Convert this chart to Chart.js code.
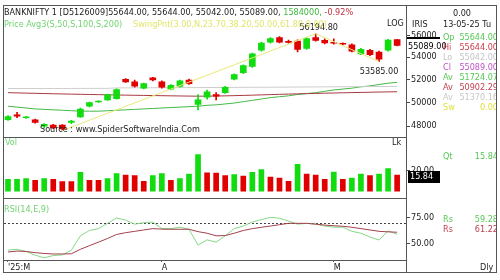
<!DOCTYPE html>
<html>
<head>
<meta charset="utf-8">
<title>BANKNIFTY daily</title>
<script src="https://cdn.jsdelivr.net/npm/chart.js@4.4.1/dist/chart.umd.min.js"></script>
<style>
  body { margin: 0; background: #fff; }
  #wrap { position: relative; width: 500px; height: 280px; overflow: hidden; background: #fff;
          font-family: 'DejaVu Sans Condensed', 'DejaVu Sans', sans-serif; font-size: 9px; color: #222; }
  #wrap canvas { position: absolute; }
  .t { position: absolute; white-space: nowrap; line-height: 10px; }
  .ln { position: absolute; background: #555; }
  #side { position: absolute; left: 407px; top: 5px; width: 89px; height: 267px; overflow: hidden; }
  #side .l { left: 36px; }
  #side .v { right: -2px; text-align: right; }
</style>
</head>
<body>
<div id="wrap">
  <canvas id="price" width="492" height="132" style="left:4px;top:5px"></canvas>
  <canvas id="vol" width="492" height="60" style="left:4px;top:138px"></canvas>
  <canvas id="rsi" width="492" height="73" style="left:4px;top:199px"></canvas>

  <div class="t" style="left:4px;top:7px"><span id="head"></span> <span id="headVol" style="color:#3cb83c"></span> <span id="headChg" style="color:#c0303c"></span></div>
  <div class="t" style="left:133px;top:18.5px;color:#e4e46a">SwingPnt(3.00,N,23.70,38.20,50.00,61.80,0.00)</div>
  <div class="t" style="left:4px;top:18.5px;color:#6fd46f">Price Avg3(S,50,S,100,S,200)</div>
  <div class="t" style="left:387px;top:18px">LOG</div>
  <div class="t" style="left:40px;top:124px;color:#222">Source : www.SpiderSoftwareIndia.Com</div>
  <div class="t" style="left:5px;top:137px;color:#6fd46f">Vol</div>
  <div class="t" style="left:392px;top:137px">Lk</div>
  <div class="t" style="left:4px;top:203.5px;color:#6fd46f">RSI(14,E,9)</div>

  <div id="side">
    <div class="t" style="left:46px;top:3px">0.00</div>
    <div class="t" style="left:5px;top:14px">IRIS</div>
    <div class="t" style="left:36px;top:14px">13-05-25 Tu</div>
    <div class="t l" style="top:26.5px;color:#55c855">Op</div><div class="t v" id="vOp" style="top:26.5px;color:#55c855"></div>
    <div class="t l" style="top:36.6px;color:#cc3b4b">Hi</div><div class="t v" id="vHi" style="top:36.6px;color:#cc3b4b"></div>
    <div class="t l" style="top:46.7px;color:#c4c4c4">Lo</div><div class="t v" id="vLo" style="top:46.7px;color:#c4c4c4"></div>
    <div class="t l" style="top:56.8px;color:#c050c8">Cl</div><div class="t v" id="vCl" style="top:56.8px;color:#c050c8"></div>
    <div class="t l" style="top:66.9px;color:#55c855">Av</div><div class="t v" id="vA1" style="top:66.9px;color:#55c855"></div>
    <div class="t l" style="top:77px;color:#c04050">Av</div><div class="t v" id="vA2" style="top:77px;color:#c04050"></div>
    <div class="t l" style="top:87.1px;color:#c8c8c8">Av</div><div class="t v" id="vA3" style="top:87.1px;color:#c8c8c8"></div>
    <div class="t l" style="top:97.2px;color:#e0e040">Sw</div><div class="t v" style="top:97.2px;color:#e0e040">0.00</div>
    <div class="t l" style="top:145.5px;color:#55c855">Qt</div><div class="t v" id="vQt" style="top:145.5px;color:#55c855"></div>
    <div class="t l" style="top:209px;color:#55c855">Rs</div><div class="t v" id="vRs1" style="top:209px;color:#55c855"></div>
    <div class="t l" style="top:218.5px;color:#c04050">Rs</div><div class="t v" id="vRs2" style="top:218.5px;color:#c04050"></div>
    <div class="t" style="left:73px;top:256.5px">Dly</div>
  </div>

  <div style="position:absolute;left:3px;top:5px;width:492px;height:266px;border:1px solid #555"></div>
  <div class="ln" style="left:406px;top:5px;width:1px;height:268px"></div>
  <div class="ln" style="left:3px;top:137px;width:404px;height:1px"></div>
  <div class="ln" style="left:3px;top:198px;width:404px;height:1px"></div>
  <div class="ln" style="left:3px;top:260px;width:404px;height:1px"></div>
</div>

<script>
// daily candles, BANKNIFTY, Mar - 13 May 2025
const opens  = [48525, 48940, 48690, 48525, 48000, 48080, 48080, 48300, 48770, 49660, 50020, 50200, 50300, 52000, 51770, 51213, 52130, 51770, 51130, 51370, 51930, 49810,
                50430, 50660, 50820, 52010, 52575, 53144, 54637, 55400, 55828, 55420, 55485, 54805, 55828, 55570, 55330, 55250, 55144, 54302, 54637, 54469, 54637, 55644];
const highs  = [48880, 49150, 48780, 48580, 48200, 48150, 48120, 48480, 49500, 50020, 50120, 50700, 51150, 52050, 51930, 51650, 52170, 51850, 51530, 51930, 52010, 50660,
                51050, 50820, 51370, 52490, 53300, 54380, 55400, 55830, 55914, 55600, 55610, 55828, 56194.8, 55700, 55700, 55320, 55229, 54805, 54721, 54553, 55656, 55644];
const lows   = [48460, 48700, 48640, 48250, 47850, 47800, 47640, 48200, 48710, 49600, 49980, 50150, 50250, 51720, 51300, 51150, 51850, 51210, 51060, 51290, 51530, 49350,
                50270, 50200, 50750, 51930, 52500, 53060, 54550, 55310, 55314, 55300, 54470, 54721, 55485, 55229, 55200, 55140, 54469, 54218, 54135, 53585, 54553, 55042];
const closes = [48790, 48825, 48720, 48300, 48150, 47860, 47780, 48420, 49420, 49970, 50060, 50660, 51080, 51770, 51380, 51609, 51930, 51290, 51450, 51850, 51610, 50200,
                50900, 50510, 51290, 52410, 53225, 54302, 55314, 55742, 55400, 55380, 54721, 55742, 55570, 55314, 55290, 55200, 54553, 54721, 54218, 53802, 55600, 55089];
// volume in lakh
const volumes = [11.6, 11.7, 12.3, 10.8, 12.3, 11.6, 9.6, 9.5, 18.3, 10.8, 10.7, 12.3, 17.1, 15.8, 15.3, 9.8, 15.3, 17.1, 10.8, 12.3, 16.6, 35.4,
                 17.8, 17.6, 15.3, 16.3, 14.8, 18.3, 20.9, 13.8, 12.8, 9.8, 25.9, 16.6, 15.8, 11.6, 18.6, 11.6, 12.8, 16.6, 15.3, 16.6, 21.9, 15.84];
const ma50  = [49659, 49583, 49506, 49430, 49392, 49354, 49316, 49278, 49240, 49240, 49240, 49278, 49316, 49354, 49392, 49430, 49468, 49506, 49545, 49583, 49621, 49659,
               49736, 49774, 49851, 49928, 50043, 50159, 50275, 50391, 50469, 50547, 50664, 50742, 50820, 50938, 51056, 51134, 51213, 51331, 51410, 51530, 51649, 51724.07];
const ma100 = [50820, 50800, 50780, 50762, 50744, 50726, 50710, 50694, 50678, 50662, 50648, 50634, 50620, 50606, 50594, 50582, 50570, 50558, 50546, 50534, 50524, 50516,
               50520, 50530, 50545, 50562, 50582, 50604, 50628, 50652, 50676, 50698, 50718, 50738, 50756, 50774, 50792, 50810, 50826, 50842, 50858, 50874, 50888, 50902.29];
const ma200 = [51180, 51181, 51182, 51183, 51184, 51185, 51186, 51188, 51190, 51192, 51194, 51196, 51236, 51240, 51243, 51246, 51249, 51252, 51255, 51258, 51261, 51264,
               51268, 51272, 51276, 51280, 51284, 51288, 51292, 51296, 51300, 51305, 51310, 51315, 51320, 51325, 51330, 51335, 51340, 51345, 51350, 51356, 51362, 51370.16];
const rsi    = [44, 44.8, 42.7, 39.2, 36.6, 38.8, 39.4, 44, 57.8, 62.9, 64.7, 69.8, 75, 72.8, 69, 70.4, 71, 64.7, 64.7, 66.1, 64.1, 48.9,
                53.9, 51.7, 57.8, 64.7, 67.2, 71.1, 73.3, 75.6, 74.7, 72, 69, 69.8, 69, 67.2, 66.1, 66.1, 62.1, 60.3, 56.6, 53.7, 62.5, 59.28];
const rsiSig = [42.2, 43.1, 42.7, 41.6, 40.8, 40.3, 40.3, 40.5, 44.8, 48.3, 51.7, 55.2, 59.1, 60.8, 62.1, 63.4, 64.7, 64.2, 64.1, 64.1, 64.1, 61.8,
                60.3, 57.8, 58.0, 60.3, 62.9, 64.7, 66.0, 67.2, 68.5, 69.8, 69.8, 69.8, 69.0, 68.1, 67.5, 67.0, 66.0, 64.7, 63.4, 62.1, 61.6, 61.22];
const swingIdx = [6, 34, 41];
const swingVal = [47640, 56194.8, 53585];
const priceTicks = [48000, 50000, 52000, 54000, 56000];
const volTicks = [20];
const rsiTicks = [50, 75];
const rsiLevel = 70;
const monthIdx = [0, 17, 36];
const monthText = ["'25:M", 'A', 'M'];

const FONT = "'DejaVu Sans Condensed', 'DejaVu Sans', sans-serif";
Chart.defaults.font.family = FONT;
Chart.defaults.font.size = 9;
Chart.defaults.color = '#222';

const UP = '#10dc10', DOWN = '#e00000';
const last = closes.length - 1;
const candleColors = closes.map((c, i) => c >= opens[i] ? UP : DOWN);
const volColors = volumes.map((v, i) => i === 0 || v >= volumes[i - 1] ? UP : DOWN);
const pts = arr => arr.map((v, i) => ({ x: i, y: v }));

// text panels
const f2 = v => v.toFixed(2);
document.getElementById('head').textContent =
  `BANKNIFTY 1 [D5126009]${f2(opens[last])}, ${f2(highs[last])}, ${f2(lows[last])}, ${f2(closes[last])},`;
document.getElementById('headVol').textContent = Math.round(volumes[last] * 100000) + ',';
document.getElementById('headChg').textContent = f2((closes[last] / closes[last - 1] - 1) * 100) + '%';
document.getElementById('vOp').textContent = f2(opens[last]);
document.getElementById('vHi').textContent = f2(highs[last]);
document.getElementById('vLo').textContent = f2(lows[last]);
document.getElementById('vCl').textContent = f2(closes[last]);
document.getElementById('vA1').textContent = f2(ma50[last]);
document.getElementById('vA2').textContent = f2(ma100[last]);
document.getElementById('vA3').textContent = f2(ma200[last]);
document.getElementById('vQt').textContent = f2(volumes[last]);
document.getElementById('vRs1').textContent = f2(rsi[last]);
document.getElementById('vRs2').textContent = f2(rsiSig[last]);

// shared axes
const priceMin = 47635, priceMax = 58379;
const xAxis = show => ({
  type: 'linear', min: -0.442, max: 44.09, offset: false, display: show
});
const yAxis = extra => Object.assign({
  position: 'right',
  border: { display: false },
  grid: { drawOnChartArea: false, drawTicks: true, tickLength: 3, color: '#444' },
  ticks: { padding: 1, autoSkip: false },
  afterFit: s => { s.width = 89; }
}, extra);

// swing line is straight in price, drawn over a log price axis -> one linear axis per leg
const logFrac = p => Math.log(priceMax / p) / Math.log(priceMax / priceMin);
function swingAxis(a, b) {
  const p1 = swingVal[a], p2 = swingVal[b];
  const range = (p2 - p1) / (logFrac(p1) - logFrac(p2));
  const max = p1 + logFrac(p1) * range;
  return { type: 'linear', display: false, min: max - range, max: max };
}
const swingLeg = (a, b, axis) => ({
  type: 'line', yAxisID: axis, order: 0,
  data: [{ x: swingIdx[a], y: swingVal[a] }, { x: swingIdx[b], y: swingVal[b] }],
  borderColor: '#e8e87a', borderWidth: 1, pointRadius: 0
});
const maLine = (arr, color) => ({
  type: 'line', data: pts(arr), borderColor: color, borderWidth: 1, pointRadius: 0, order: 5
});

const priceMarks = {
  id: 'priceMarks',
  afterDraw(chart) {
    const { ctx, chartArea, scales: { x, y } } = chart;
    ctx.save();
    ctx.font = '9px ' + FONT;
    ctx.textBaseline = 'middle';
    ctx.fillStyle = '#222';
    ctx.textAlign = 'center';
    ctx.fillText(f2(swingVal[1]), x.getPixelForValue(swingIdx[1]) + 3, y.getPixelForValue(swingVal[1]) - 6);
    ctx.fillText(f2(swingVal[2]), x.getPixelForValue(swingIdx[2]), y.getPixelForValue(swingVal[2]) + 10);
    const py = y.getPixelForValue(closes[last]);
    ctx.fillStyle = '#000';
    ctx.fillRect(chartArea.right, Math.round(py) - 8, 33, 2);
    ctx.textAlign = 'left';
    ctx.fillText(f2(closes[last]), chartArea.right + 1, py + 1.5);
    ctx.restore();
  }
};

const volMark = {
  id: 'volMark',
  afterDraw(chart) {
    const { ctx, chartArea, scales: { y } } = chart;
    const vy = Math.round(y.getPixelForValue(volumes[last]));
    ctx.save();
    ctx.fillStyle = '#000';
    ctx.fillRect(chartArea.right + 1, vy - 4, 32, 12);
    ctx.fillStyle = '#fff';
    ctx.font = '9px ' + FONT;
    ctx.textBaseline = 'middle';
    ctx.fillText(f2(volumes[last]), chartArea.right + 3, vy + 2);
    ctx.restore();
  }
};

const rsiLine = {
  id: 'rsiLine',
  beforeDatasetsDraw(chart) {
    const { ctx, chartArea, scales: { y } } = chart;
    const ly = Math.round(y.getPixelForValue(rsiLevel)) + 0.5;
    ctx.save();
    ctx.strokeStyle = '#444';
    ctx.lineWidth = 1;
    ctx.setLineDash([2, 2]);
    ctx.beginPath();
    ctx.moveTo(chartArea.left, ly);
    ctx.lineTo(chartArea.right, ly);
    ctx.stroke();
    ctx.restore();
  }
};

const base = {
  responsive: false,
  animation: false,
  devicePixelRatio: 1,
  events: [],
  layout: { padding: 0 },
  plugins: { legend: { display: false }, tooltip: { enabled: false } }
};

new Chart(document.getElementById('price'), {
  type: 'bar',
  data: {
    datasets: [
      swingLeg(0, 1, 's1'),
      swingLeg(1, 2, 's2'),
      { data: closes.map((c, i) => ({ x: i, y: [opens[i], c] })), backgroundColor: candleColors,
        barThickness: 6, minBarLength: 1, grouped: false, order: 1 },
      { data: closes.map((c, i) => ({ x: i, y: [lows[i], highs[i]] })), backgroundColor: candleColors,
        barThickness: 1, grouped: false, order: 2 },
      maLine(ma200, '#cdcdcd'),
      maLine(ma100, '#a83a40'),
      maLine(ma50, '#45b845')
    ]
  },
  options: Object.assign({}, base, {
    scales: {
      x: xAxis(false),
      y: yAxis({
        type: 'logarithmic', min: priceMin, max: priceMax,
        afterBuildTicks: s => { s.ticks = priceTicks.map(v => ({ value: v })); },
        ticks: { padding: 1, autoSkip: false, callback: v => String(v) }
      }),
      s1: swingAxis(0, 1),
      s2: swingAxis(1, 2)
    }
  }),
  plugins: [priceMarks]
});

new Chart(document.getElementById('vol'), {
  type: 'bar',
  data: {
    datasets: [{ data: pts(volumes), backgroundColor: volColors, barThickness: 5, grouped: false }]
  },
  options: Object.assign({}, base, {
    scales: {
      x: xAxis(false),
      y: yAxis({
        type: 'linear', min: 0, max: 45,
        afterBuildTicks: s => { s.ticks = volTicks.map(v => ({ value: v })); },
        ticks: { padding: 1, autoSkip: false, callback: v => v.toFixed(2) }
      })
    }
  }),
  plugins: [volMark]
});

new Chart(document.getElementById('rsi'), {
  type: 'line',
  data: {
    datasets: [
      { data: pts(rsiSig), borderColor: '#a3404c', borderWidth: 1, pointRadius: 0 },
      { data: pts(rsi), borderColor: '#86d886', borderWidth: 1, pointRadius: 0 }
    ]
  },
  options: Object.assign({}, base, {
    scales: {
      x: Object.assign(xAxis(true), {
        position: 'bottom',
        border: { display: false },
        grid: { drawOnChartArea: false, drawTicks: true, tickLength: 2, color: '#666' },
        afterBuildTicks: s => { s.ticks = monthIdx.map(v => ({ value: v })); },
        ticks: { align: 'start', maxRotation: 0, autoSkip: false, padding: 0,
                 callback: (v, i) => monthText[i] },
        afterFit: s => { s.height = 12; }
      }),
      y: yAxis({
        type: 'linear', min: 34.5, max: 87.07,
        afterBuildTicks: s => { s.ticks = rsiTicks.map(v => ({ value: v })); },
        ticks: { padding: 1, autoSkip: false, callback: v => v.toFixed(2) }
      })
    }
  }),
  plugins: [rsiLine]
});
</script>
</body>
</html>
